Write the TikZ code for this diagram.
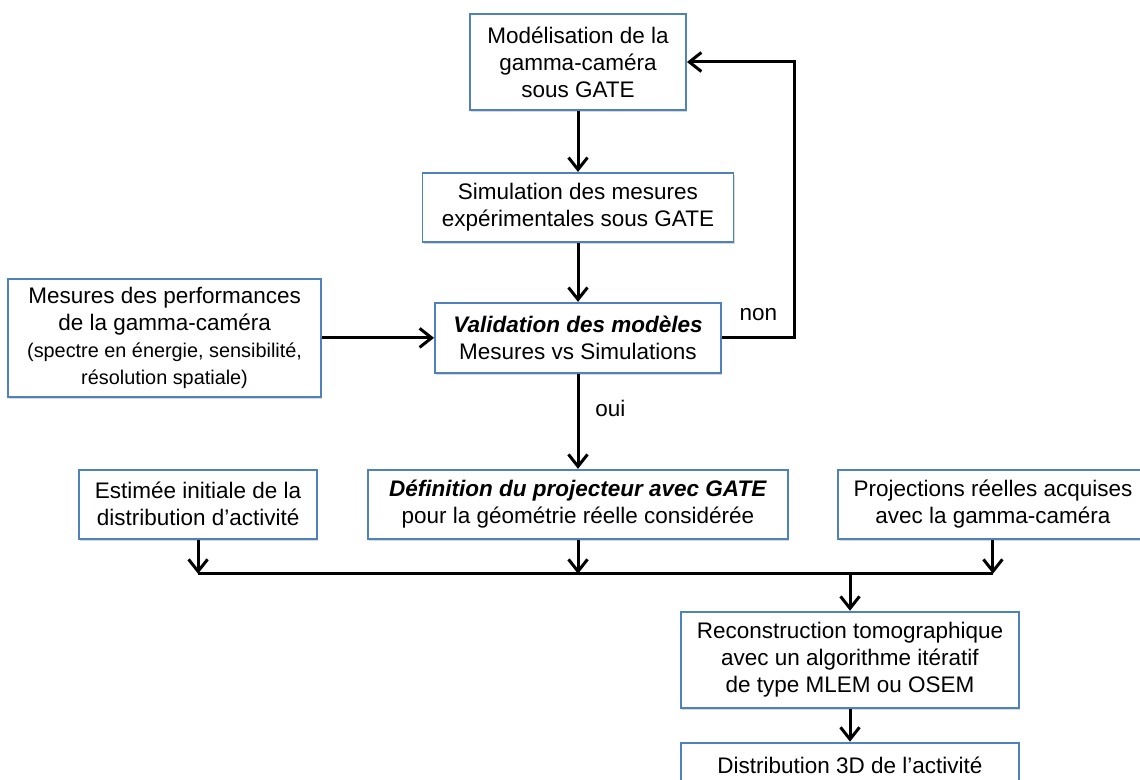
\documentclass[tikz,border=0pt]{standalone}
\usepackage{fontspec}
\setmainfont{Liberation Sans}
\usetikzlibrary{arrows.meta,positioning,shadows}
\definecolor{boxblue}{RGB}{79,129,189}

\begin{document}
\begin{tikzpicture}[
  every node/.style={align=center, font=\fontsize{12.8}{15.4}\selectfont},
  box/.style={rectangle, draw=boxblue, line width=1.1pt, fill=white, inner sep=2pt,
    drop shadow={opacity=0.3, shadow xshift=0.8pt, shadow yshift=-1.4pt}},
  arrow/.style={-{Straight Barb[length=2.4mm, width=3.8mm]}, line width=1.7pt},
  bus/.style={line width=1.7pt}
]
\useasboundingbox (0,0) rectangle (22.8,-15.6);

\node[box, minimum width=4.32cm, minimum height=1.92cm] (model) at (11.56,-1.24) {Modélisation de la\\gamma-caméra\\sous GATE};
\node[box, below=1.22cm of model, minimum width=6.22cm, minimum height=1.38cm] (sim) {Simulation des mesures\\expérimentales sous GATE};
\node[box, below=1.18cm of sim, minimum width=5.72cm, minimum height=1.40cm] (valid) {\textbf{\textit{Validation des modèles}}\\Mesures vs Simulations};
\node[box, left=2.24cm of valid, minimum width=6.26cm, minimum height=2.36cm] (perf) {Mesures des performances\\de la gamma-caméra\\\fontsize{11.3}{14}\selectfont(spectre en énergie, sensibilité,\\\fontsize{11.3}{14}\selectfont résolution spatiale)};
\node[box, below=1.90cm of valid, minimum width=8.40cm, minimum height=1.38cm] (def) {\textbf{\textit{Définition du projecteur avec GATE}}\\pour la géométrie réelle considérée};
\node[box, left=0.98cm of def, minimum width=4.76cm, minimum height=1.38cm] (estim) {Estimée initiale de la\\distribution d’activité};
\node[box, right=0.96cm of def, minimum width=6.20cm, minimum height=1.38cm] (proj) {Projections réelles acquises\\avec la gamma-caméra};
\node[box, below=1.42cm of def, xshift=5.44cm, minimum width=6.76cm, minimum height=1.92cm] (recon) {Reconstruction tomographique\\avec un algorithme itératif\\de type MLEM ou OSEM};
\node[box, below=0.66cm of recon, minimum width=6.76cm, minimum height=0.9cm] (dist) {Distribution 3D de l’activité};

\coordinate (bus) at ([yshift=-0.68cm]estim.south);

\draw[arrow] (model) -- (sim);
\draw[arrow] (sim) -- (valid);
\draw[arrow] (perf) -- (valid);
\draw[arrow] (valid.east) -- node[above, yshift=0.2cm] {non} ++(1.46,0) |- (model.east);
\draw[arrow] (valid) -- node[right, pos=0.36, xshift=0.2cm] {oui} (def);

\draw[bus] (bus) -- (bus -| proj.south);
\draw[arrow] (estim) -- (bus);
\draw[arrow] (def) -- (def.south |- bus);
\draw[arrow] (proj) -- (proj.south |- bus);
\draw[arrow] (bus -| recon.north) -- (recon);
\draw[arrow] (recon) -- (dist);

\end{tikzpicture}
\end{document}
